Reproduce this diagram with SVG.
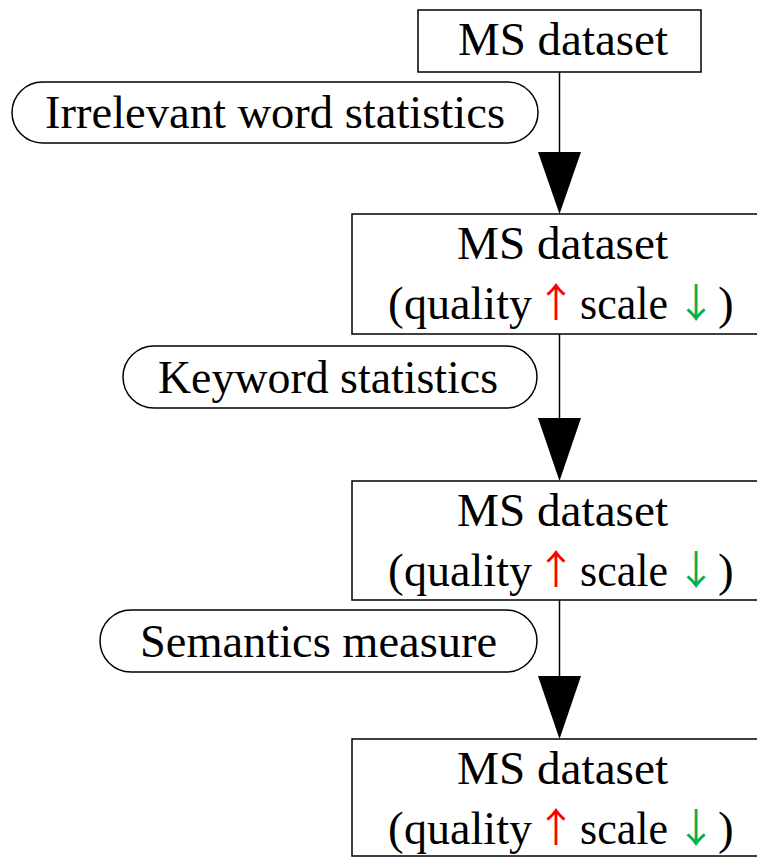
<svg xmlns="http://www.w3.org/2000/svg" width="757" height="857" viewBox="0 0 757 857">
<style>
.box{fill:#fff;stroke:#000;stroke-width:1.5}
.pill{fill:#fff;stroke:#000;stroke-width:1.5}
.t{font-family:"Liberation Serif","Times New Roman",serif;font-size:47px;fill:#000}
.up{font-family:"Noto Sans CJK SC","DejaVu Sans",sans-serif;font-size:40px;fill:#FF0000}
.dn{font-family:"Noto Sans CJK SC","DejaVu Sans",sans-serif;font-size:40px;fill:#00B050}
.ln{stroke:#000;stroke-width:1.5;fill:none}
.hd{fill:#000}
</style>
<rect width="757" height="857" fill="#fff"/>
<g id="connectors">
<line class="ln" x1="559.5" y1="72" x2="559.5" y2="153"/>
<polygon class="hd" points="538,152 581,152 559.5,214"/>
<line class="ln" x1="559.5" y1="334" x2="559.5" y2="419"/>
<polygon class="hd" points="538,418 581,418 559.5,481"/>
<line class="ln" x1="559.5" y1="600" x2="559.5" y2="677"/>
<polygon class="hd" points="538,676 581,676 559.5,739"/>
</g>
<g id="node1">
<rect class="box" x="418" y="10" width="283" height="62"/>
<text class="t" x="458" y="55" textLength="210" lengthAdjust="spacingAndGlyphs">MS dataset</text>
</g>
<g id="label1">
<rect class="pill" x="12" y="82" width="526" height="61" rx="30.5"/>
<text class="t" x="45" y="128" textLength="460" lengthAdjust="spacingAndGlyphs">Irrelevant word statistics</text>
</g>
<g id="node2">
<rect class="box" x="352" y="214" width="420" height="120"/>
<text class="t" x="457" y="259" textLength="211" lengthAdjust="spacingAndGlyphs">MS dataset</text>
<text class="t" x="388" y="319">(</text>
<text class="t" x="404" y="319" textLength="128" lengthAdjust="spacingAndGlyphs">quality</text>
<text class="up" x="556" y="317" text-anchor="middle">↑</text>
<text class="t" x="580" y="319" textLength="88" lengthAdjust="spacingAndGlyphs">scale</text>
<text class="dn" x="696" y="317" text-anchor="middle">↓</text>
<text class="t" x="718" y="319">)</text>
</g>
<g id="label2">
<rect class="pill" x="123" y="346" width="414" height="62" rx="31"/>
<text class="t" x="158" y="393" textLength="340" lengthAdjust="spacingAndGlyphs">Keyword statistics</text>
</g>
<g id="node3">
<rect class="box" x="352" y="481" width="420" height="119"/>
<text class="t" x="457" y="526" textLength="211" lengthAdjust="spacingAndGlyphs">MS dataset</text>
<text class="t" x="388" y="586">(</text>
<text class="t" x="404" y="586" textLength="128" lengthAdjust="spacingAndGlyphs">quality</text>
<text class="up" x="556" y="584" text-anchor="middle">↑</text>
<text class="t" x="580" y="586" textLength="88" lengthAdjust="spacingAndGlyphs">scale</text>
<text class="dn" x="696" y="584" text-anchor="middle">↓</text>
<text class="t" x="718" y="586">)</text>
</g>
<g id="label3">
<rect class="pill" x="100" y="610" width="437" height="62" rx="31"/>
<text class="t" x="140" y="657" textLength="357" lengthAdjust="spacingAndGlyphs">Semantics measure</text>
</g>
<g id="node4">
<rect class="box" x="352" y="739" width="420" height="117"/>
<text class="t" x="457" y="784" textLength="211" lengthAdjust="spacingAndGlyphs">MS dataset</text>
<text class="t" x="388" y="844">(</text>
<text class="t" x="404" y="844" textLength="128" lengthAdjust="spacingAndGlyphs">quality</text>
<text class="up" x="556" y="842" text-anchor="middle">↑</text>
<text class="t" x="580" y="844" textLength="88" lengthAdjust="spacingAndGlyphs">scale</text>
<text class="dn" x="696" y="842" text-anchor="middle">↓</text>
<text class="t" x="718" y="844">)</text>
</g>
</svg>
